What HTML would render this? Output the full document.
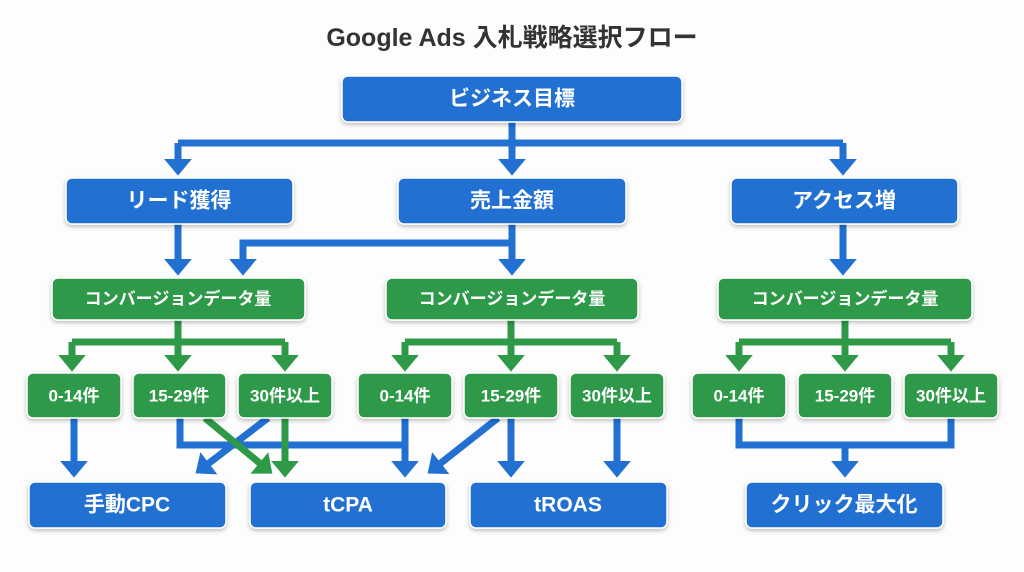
<!DOCTYPE html>
<html><head><meta charset="utf-8"><style>
body{margin:0;background:#fdfdfd;}
svg{display:block}
text{font-family:"Liberation Sans","Noto Sans CJK JP",sans-serif;font-weight:bold;fill:#fff;text-anchor:middle;dominant-baseline:central}
</style></head><body>
<svg width="1024" height="572" viewBox="0 0 1024 572">
<defs>
<filter id="sh" x="-10%" y="-20%" width="120%" height="150%"><feDropShadow dx="0" dy="2" stdDeviation="2" flood-color="#000" flood-opacity="0.25"/></filter>
<marker id="ab" markerWidth="4" markerHeight="4" refX="1.6" refY="2" orient="auto" markerUnits="strokeWidth"><path d="M0,0 L2.4,2 L0,4z" fill="#2271d2"/></marker>
<marker id="ag" markerWidth="4" markerHeight="4" refX="1.6" refY="2" orient="auto" markerUnits="strokeWidth"><path d="M0,0 L2.4,2 L0,4z" fill="#2e9a48"/></marker>
</defs>
<text x="512" y="38" style="fill:#333;font-size:25px">Google Ads 入札戦略選択フロー</text>
<g fill="none" stroke-width="7">
<g stroke="#2271d2">
<path d="M512 122V143M178 143H843"/>
<path d="M178 143V170" marker-end="url(#ab)"/><path d="M512 143V170" marker-end="url(#ab)"/><path d="M843 143V170" marker-end="url(#ab)"/>
<path d="M178 224V270" marker-end="url(#ab)"/>
<path d="M512 224V270" marker-end="url(#ab)"/>
<path d="M512 243H243V270" marker-end="url(#ab)"/>
<path d="M843 224V270" marker-end="url(#ab)"/>
</g>
<g stroke="#2e9a48">
<path d="M178 320V342M72 342H285M511 320V342M405 342H617M845 320V342M739 342H951"/>
<path d="M72 342V366" marker-end="url(#ag)"/><path d="M178 342V366" marker-end="url(#ag)"/><path d="M285 342V366" marker-end="url(#ag)"/>
<path d="M405 342V366" marker-end="url(#ag)"/><path d="M511 342V366" marker-end="url(#ag)"/><path d="M617 342V366" marker-end="url(#ag)"/>
<path d="M739 342V366" marker-end="url(#ag)"/><path d="M845 342V366" marker-end="url(#ag)"/><path d="M951 342V366" marker-end="url(#ag)"/>
</g>
<g stroke="#2271d2">
<path d="M74 418V472" marker-end="url(#ab)"/>
<path d="M180 418V445H405"/>
<path d="M405 418V472" marker-end="url(#ab)"/>
<path d="M268 418L200 470" marker-end="url(#ab)"/>
<path d="M498 418L432 470" marker-end="url(#ab)"/>
<path d="M511 418V472" marker-end="url(#ab)"/>
<path d="M617 418V472" marker-end="url(#ab)"/>
<path d="M739 418V445H951V418M845 445V472" marker-end="url(#ab)"/>
</g>
<g stroke="#2e9a48">
<path d="M205 418L268 470" marker-end="url(#ag)"/>
<path d="M285 418V472" marker-end="url(#ag)"/>
</g>
</g>
<g filter="url(#sh)" stroke="#fff" stroke-width="1.5">
<rect x="342" y="76" width="340" height="46" rx="6" fill="#2271d2"/>
<rect x="66" y="178" width="227" height="46" rx="6" fill="#2271d2"/>
<rect x="398" y="178" width="228" height="46" rx="6" fill="#2271d2"/>
<rect x="731" y="178" width="227" height="46" rx="6" fill="#2271d2"/>
<rect x="52" y="278" width="253" height="42" rx="6" fill="#2e9a48"/>
<rect x="386" y="278" width="252" height="42" rx="6" fill="#2e9a48"/>
<rect x="718" y="278" width="254" height="42" rx="6" fill="#2e9a48"/>
<rect x="27" y="373" width="94" height="45" rx="6" fill="#2e9a48"/>
<rect x="133" y="373" width="93" height="45" rx="6" fill="#2e9a48"/>
<rect x="238" y="373" width="94" height="45" rx="6" fill="#2e9a48"/>
<rect x="358" y="373" width="94" height="45" rx="6" fill="#2e9a48"/>
<rect x="464" y="373" width="94" height="45" rx="6" fill="#2e9a48"/>
<rect x="570" y="373" width="94" height="45" rx="6" fill="#2e9a48"/>
<rect x="692" y="373" width="94" height="45" rx="6" fill="#2e9a48"/>
<rect x="798" y="373" width="94" height="45" rx="6" fill="#2e9a48"/>
<rect x="904" y="373" width="94" height="45" rx="6" fill="#2e9a48"/>
<rect x="29" y="482" width="197" height="46" rx="6" fill="#2271d2"/>
<rect x="250" y="482" width="196" height="46" rx="6" fill="#2271d2"/>
<rect x="470" y="482" width="197" height="46" rx="6" fill="#2271d2"/>
<rect x="746" y="482" width="197" height="46" rx="6" fill="#2271d2"/>
</g>
<g style="font-size:21px">
<text x="512" y="99">ビジネス目標</text>
<text x="179" y="201">リード獲得</text>
<text x="512" y="201">売上金額</text>
<text x="844" y="201">アクセス増</text>
</g>
<g style="font-size:17px">
<text x="178" y="299">コンバージョンデータ量</text>
<text x="512" y="299">コンバージョンデータ量</text>
<text x="845" y="299">コンバージョンデータ量</text>
<text x="74" y="396">0-14件</text><text x="179" y="396">15-29件</text><text x="285" y="396">30件以上</text>
<text x="405" y="396">0-14件</text><text x="511" y="396">15-29件</text><text x="617" y="396">30件以上</text>
<text x="739" y="396">0-14件</text><text x="845" y="396">15-29件</text><text x="951" y="396">30件以上</text>
</g>
<g style="font-size:21px">
<text x="127" y="505">手動CPC</text>
<text x="348" y="505">tCPA</text>
<text x="568" y="505">tROAS</text>
<text x="844" y="505">クリック最大化</text>
</g>
</svg>
</body></html>
